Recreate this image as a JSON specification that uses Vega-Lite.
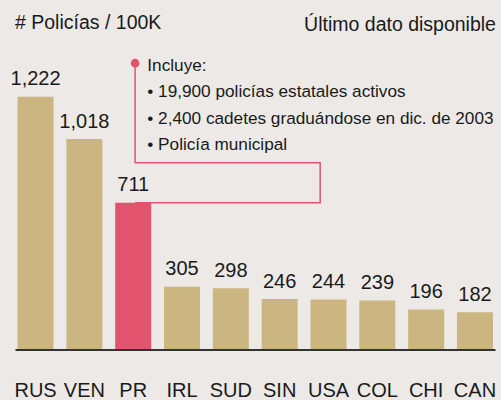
{
  "$schema": "https://vega.github.io/schema/vega-lite/v6.json",
  "width": 501,
  "height": 350,
  "autosize": "none",
  "padding": {"left": 0, "top": 0, "right": 0, "bottom": 50},
  "background": "#ECE9E6",
  "config": {"view": {"stroke": null}, "text": {"font": "Liberation Sans", "color": "#1a1a1a"}},
  "datasets": {
    "paises": [
      {"pais": "RUS", "valor": 1222},
      {"pais": "VEN", "valor": 1018},
      {"pais": "PR", "valor": 711},
      {"pais": "IRL", "valor": 305},
      {"pais": "SUD", "valor": 298},
      {"pais": "SIN", "valor": 246},
      {"pais": "USA", "valor": 244},
      {"pais": "COL", "valor": 239},
      {"pais": "CHI", "valor": 196},
      {"pais": "CAN", "valor": 182}
    ],
    "conector": [
      {"orden": 1, "u": 2.04, "v": 1384},
      {"orden": 2, "u": 2.04, "v": 904},
      {"orden": 3, "u": 5.83, "v": 904},
      {"orden": 4, "u": 5.83, "v": 711},
      {"orden": 5, "u": 2.04, "v": 711}
    ],
    "nota": [
      {"u": 2.29, "v": 1348, "texto": "Incluye:"},
      {"u": 2.29, "v": 1219.6, "texto": "• 19,900 policías estatales activos"},
      {"u": 2.29, "v": 1091.7, "texto": "• 2,400 cadetes graduándose en dic. de 2003"},
      {"u": 2.29, "v": 963.3, "texto": "• Policía municipal"}
    ],
    "punto": [{"u": 2.04, "v": 1384}],
    "base": [{"u": -0.41, "u2": 9.42, "v": 0}],
    "encabezado_izq": [{"u": -0.42, "v": 1548, "texto": "# Policías / 100K"}],
    "encabezado_der": [{"u": 9.43, "v": 1540, "texto": "Último dato disponible"}]
  },
  "resolve": {"scale": {"x": "independent"}},
  "layer": [
    {
      "data": {"name": "paises"},
      "encoding": {
        "x": {
          "field": "pais", "type": "nominal", "sort": null,
          "scale": {"paddingInner": 0.263, "paddingOuter": 0.262, "align": 0.686},
          "axis": {"title": null, "domain": false, "ticks": false, "tickSize": 0, "labelAngle": 0,
                   "labelFont": "Liberation Sans", "labelFontSize": 20, "labelColor": "#1a1a1a",
                   "labelPadding": 46, "labelBaseline": "alphabetic"}
        },
        "y": {"field": "valor", "type": "quantitative", "scale": {"domain": [0, 1689], "nice": false}, "axis": null}
      },
      "layer": [
        {
          "mark": {"type": "bar"},
          "encoding": {
            "color": {"condition": {"test": "datum.pais === 'PR'", "value": "#E2546E"}, "value": "#CBB581"}
          }
        },
        {
          "mark": {"type": "text", "baseline": "alphabetic", "dy": -11.5, "fontSize": 20},
          "encoding": {"text": {"field": "valor", "type": "quantitative", "format": ",d"}}
        }
      ]
    },
    {
      "layer": [
        {
          "data": {"name": "conector"},
          "mark": {"type": "line", "color": "#E2546E", "strokeWidth": 1.5},
          "encoding": {
            "x": {"field": "u", "type": "quantitative", "scale": {"domain": [-0.727, 9.533], "nice": false, "zero": false}, "axis": null},
            "y": {"field": "v", "type": "quantitative", "scale": {"domain": [0, 1689], "nice": false}, "axis": null},
            "order": {"field": "orden"}
          }
        },
        {
          "data": {"name": "base"},
          "mark": {"type": "rule", "color": "#333333", "strokeWidth": 2},
          "encoding": {
            "x": {"field": "u", "type": "quantitative"},
            "x2": {"field": "u2"},
            "y": {"field": "v", "type": "quantitative"}
          }
        },
        {
          "data": {"name": "punto"},
          "mark": {"type": "point", "filled": true, "shape": "circle", "size": 75, "color": "#E2546E", "opacity": 1},
          "encoding": {
            "x": {"field": "u", "type": "quantitative"},
            "y": {"field": "v", "type": "quantitative"}
          }
        },
        {
          "data": {"name": "nota"},
          "mark": {"type": "text", "align": "left", "baseline": "alphabetic", "fontSize": 17.2},
          "encoding": {
            "x": {"field": "u", "type": "quantitative"},
            "y": {"field": "v", "type": "quantitative"},
            "text": {"field": "texto"}
          }
        },
        {
          "data": {"name": "encabezado_izq"},
          "mark": {"type": "text", "align": "left", "baseline": "alphabetic", "fontSize": 19.5},
          "encoding": {
            "x": {"field": "u", "type": "quantitative"},
            "y": {"field": "v", "type": "quantitative"},
            "text": {"field": "texto"}
          }
        },
        {
          "data": {"name": "encabezado_der"},
          "mark": {"type": "text", "align": "right", "baseline": "alphabetic", "fontSize": 19.5},
          "encoding": {
            "x": {"field": "u", "type": "quantitative"},
            "y": {"field": "v", "type": "quantitative"},
            "text": {"field": "texto"}
          }
        }
      ]
    }
  ]
}
